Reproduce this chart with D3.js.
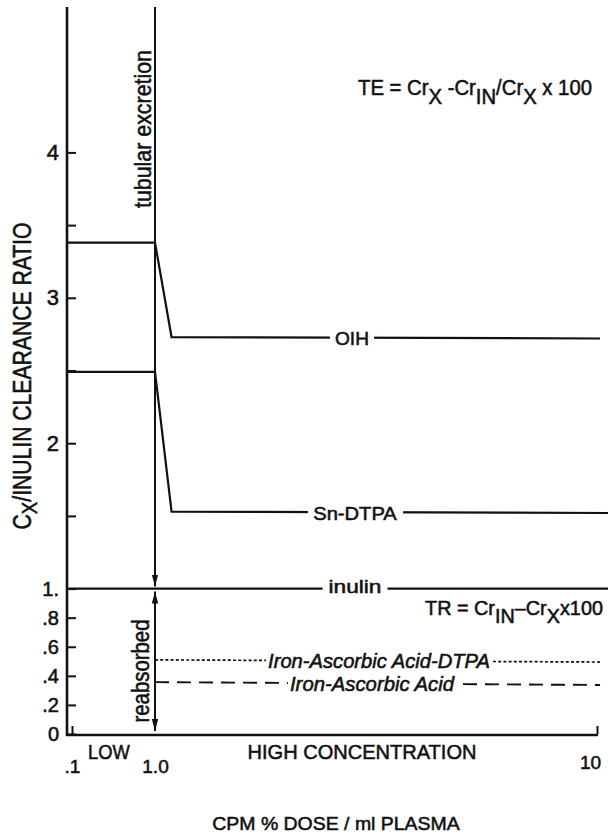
<!DOCTYPE html>
<html>
<head>
<meta charset="utf-8">
<script src="https://cdn.jsdelivr.net/npm/d3@7/dist/d3.min.js"></script>
<style>
  html, body { margin: 0; padding: 0; background: #fff; }
  svg { display: block; }
  text { font-family: "Liberation Sans Narrow", "Liberation Sans", Arial, sans-serif; fill: #111; stroke: #111; stroke-width: 0.55px; }
</style>
</head>
<body>
<svg id="chart" width="608" height="835"></svg>
<script>
// ---------- data ----------
const yTicks = [0, 0.2, 0.4, 0.6, 0.8, 1, 1.5, 2, 2.5, 3, 3.5, 4];
const yTickLabels = ["0", ".2", ".4", ".6", ".8", "1.", "", "2", "", "3", "", "4"];
const xTicks = [0.1, 1, 10];
const xTickLabels = [".1", "1.0", "10"];

const oihX = [0.087, 1.0, 1.09, 10.16];
const oihY = [3.38, 3.38, 2.73, 2.72];
const snX = [0.087, 1.0, 1.09, 10.6];
const snY = [2.49, 2.49, 1.53, 1.52];
const inulinX = [0.087, 10.6];
const inulinY = [1.0, 1.0];
const iaaDtpaX = [1.0, 10.16];
const iaaDtpaY = [0.51, 0.495];
const iaaX = [1.0, 10.16];
const iaaY = [0.357, 0.337];

// ---------- scales ----------
const svg = d3.select("#chart");
const x = d3.scaleLog().domain([0.1, 1, 10]).range([72, 155, 597]);
const y = d3.scaleLinear().domain([0, 5]).range([734, 7]);
const xLeft = 67;

const line = d3.line().x(d => x(d[0])).y(d => y(d[1]));
const zip = (a, b) => a.map((v, i) => [v, b[i]]);

// helper: text fitted to a target width
function label(txt, cx, cy, size, target, opts = {}) {
  const g = svg.append("g");
  const t = g.append("text")
    .attr("text-anchor", "middle")
    .attr("dy", opts.dy != null ? opts.dy : "0.35em")
    .attr("font-size", size)
    .attr("font-style", opts.italic ? "italic" : null)
    .attr("font-weight", opts.bold ? "bold" : null);
  if (typeof txt === "string") t.text(txt); else txt(t);
  let s = 1;
  if (target) {
    const w = t.node().getBBox().width;
    s = target / w;
  }
  g.attr("transform", `translate(${cx},${cy}) rotate(${opts.rot || 0}) scale(${s},1)`);
  if (opts.knock) {
    const bb = t.node().getBBox();
    g.insert("rect", "text")
      .attr("x", bb.x - opts.knock).attr("y", bb.y + 2)
      .attr("width", bb.width + 2 * opts.knock).attr("height", bb.height - 4)
      .attr("fill", "#fff");
  }
  return g;
}

// ---------- series lines ----------
const lineG = svg.append("g").attr("fill", "none").attr("stroke", "#111");
lineG.append("path").attr("d", line(zip(oihX, oihY))).attr("stroke-width", 2.2);
lineG.append("path").attr("d", line(zip(snX, snY))).attr("stroke-width", 2.2);
lineG.append("path").attr("d", line(zip(inulinX, inulinY))).attr("stroke-width", 2.2);
lineG.append("path").attr("d", line(zip(iaaDtpaX, iaaDtpaY))).attr("stroke-width", 1.7)
  .attr("stroke-dasharray", "3,2.2");
lineG.append("path").attr("d", line(zip(iaaX, iaaY))).attr("stroke-width", 1.9)
  .attr("stroke-dasharray", "14,8");

// ---------- arrows ----------
const defs = svg.append("defs");
defs.append("marker").attr("id", "arr")
  .attr("viewBox", "0 0 12 8").attr("refX", 12).attr("refY", 4)
  .attr("markerWidth", 12).attr("markerHeight", 8)
  .attr("markerUnits", "userSpaceOnUse")
  .attr("orient", "auto-start-reverse")
  .append("path").attr("d", "M0,0.8 L12,4 L0,7.2 Z").attr("fill", "#111");

svg.append("line")
  .attr("x1", x(1)).attr("x2", x(1))
  .attr("y1", y(5)).attr("y2", y(1) - 2)
  .attr("stroke", "#111").attr("stroke-width", 2)
  .attr("marker-end", "url(#arr)");
svg.append("line")
  .attr("x1", x(1)).attr("x2", x(1))
  .attr("y1", y(1) + 3).attr("y2", y(0) - 3)
  .attr("stroke", "#111").attr("stroke-width", 2)
  .attr("marker-start", "url(#arr)")
  .attr("marker-end", "url(#arr)");

// ---------- axes ----------
const yAxis = d3.axisLeft(y).tickValues(yTicks).tickSize(-9).tickPadding(0)
  .tickFormat((d, i) => yTickLabels[i]);
const yg = svg.append("g").attr("transform", `translate(${xLeft},0)`).call(yAxis);
yg.select(".domain").remove();
yg.selectAll(".tick line").attr("stroke", "#111").attr("stroke-width", 2);
yg.selectAll(".tick text").attr("x", -8)
  .attr("font-size", d => d > 1 ? 22 : 20)
  .attr("font-family", "Liberation Sans, Arial, sans-serif").attr("fill", "#111");

const xAxis = d3.axisBottom(x).tickValues(xTicks).tickSize(-8).tickPadding(0)
  .tickFormat((d, i) => xTickLabels[i]);
const xg = svg.append("g").attr("transform", `translate(0,${y(0)})`).call(xAxis);
xg.select(".domain").remove();
xg.selectAll(".tick line").attr("stroke", "#111").attr("stroke-width", 2)
  .attr("opacity", (d) => d === 1 ? 0 : 1);
xg.selectAll(".tick text").attr("y", 32).attr("dy", "0.35em").attr("font-size", 19)
  .attr("font-family", "Liberation Sans, Arial, sans-serif").attr("fill", "#111")
  .attr("transform", d => d === 10 ? "translate(-7,-4)" : null);

svg.append("path")
  .attr("d", `M${xLeft},${y(5)} V${y(0) + 1} H${x(10) + 1}`)
  .attr("fill", "none").attr("stroke", "#111").attr("stroke-width", 2.6);

// ---------- line labels ----------
label("OIH", 352, y(2.72), 19, 34, { knock: 5 });
label("Sn-DTPA", 355, y(1.52), 19, 84, { knock: 5 });
label("inulin", 355, y(1.0) - 2, 19, 53, { knock: 5 });
label("Iron-Ascorbic Acid-DTPA", 379, y(0.505), 20, 222, { knock: 2, italic: true });
label("Iron-Ascorbic Acid", 372, y(0.347), 20, 165, { knock: 2, italic: true });

// ---------- annotations ----------
label("tubular excretion", 143, 129, 24, 158, { rot: -90 });
label("reabsorbed", 141, 671, 24, 103, { rot: -90 });

label(t => {
  t.append("tspan").text("C");
  t.append("tspan").attr("dy", 6).attr("font-size", 22).text("X");
  t.append("tspan").attr("dy", -6).text("/INULIN CLEARANCE RATIO");
}, 22, 376, 25, 307, { rot: -90 });

label(t => {
  t.append("tspan").text("TE = Cr");
  t.append("tspan").attr("dy", 9).text("X");
  t.append("tspan").attr("dy", -9).text(" -Cr");
  t.append("tspan").attr("dy", 9).text("IN");
  t.append("tspan").attr("dy", -9).text("/Cr");
  t.append("tspan").attr("dy", 9).text("X");
  t.append("tspan").attr("dy", -9).text(" x 100");
}, 475, 95, 22, 234, { dy: 0 });

label(t => {
  t.append("tspan").text("TR = Cr");
  t.append("tspan").attr("dy", 8).text("IN");
  t.append("tspan").attr("dy", -8).text("–Cr");
  t.append("tspan").attr("dy", 8).text("X");
  t.append("tspan").attr("dy", -8).text("x100");
}, 514, 615, 21, 178, { dy: 0 });

label("LOW", 109, 752, 21, 42);
label("HIGH CONCENTRATION", 362, 752, 21, 229);
label("CPM % DOSE / ml PLASMA", 336, 823, 19, 248);
</script>
</body>
</html>
